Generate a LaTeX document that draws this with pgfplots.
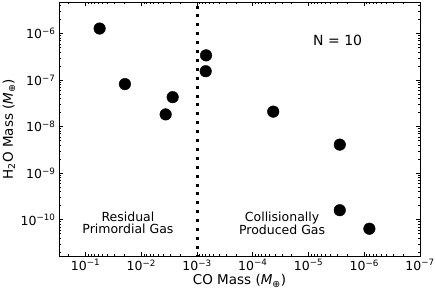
\documentclass[border=0pt]{standalone}
\usepackage{fontspec}
\setmainfont{DejaVu Sans}
\usepackage{pgfplots}
\pgfplotsset{compat=1.18}
\begin{document}
\begin{tikzpicture}
\begin{axis}[
  scale only axis,
  width=361pt, height=254pt,
  xmode=log, ymode=log,
  log basis x=10, log basis y=10,
  x dir=reverse,
  xmin=1e-7, xmax=0.30,
  ymin=1.66e-11, ymax=4.76e-6,
  xtick={1e-7,1e-6,1e-5,1e-4,1e-3,1e-2,1e-1},
  ytick={1e-10,1e-9,1e-8,1e-7,1e-6},
  minor xtick={2e-7,3e-7,4e-7,5e-7,6e-7,7e-7,8e-7,9e-7,
    2e-6,3e-6,4e-6,5e-6,6e-6,7e-6,8e-6,9e-6,
    2e-5,3e-5,4e-5,5e-5,6e-5,7e-5,8e-5,9e-5,
    2e-4,3e-4,4e-4,5e-4,6e-4,7e-4,8e-4,9e-4,
    2e-3,3e-3,4e-3,5e-3,6e-3,7e-3,8e-3,9e-3,
    2e-2,3e-2,4e-2,5e-2,6e-2,7e-2,8e-2,9e-2,
    2e-1,3e-1},
  minor ytick={2e-11,3e-11,4e-11,5e-11,6e-11,7e-11,8e-11,9e-11,
    2e-10,3e-10,4e-10,5e-10,6e-10,7e-10,8e-10,9e-10,
    2e-9,3e-9,4e-9,5e-9,6e-9,7e-9,8e-9,9e-9,
    2e-8,3e-8,4e-8,5e-8,6e-8,7e-8,8e-8,9e-8,
    2e-7,3e-7,4e-7,5e-7,6e-7,7e-7,8e-7,9e-7,
    2e-6,3e-6,4e-6},
  xticklabel={\pgfmathtruncatemacro\e{-round(\tick)}10\textsuperscript{−\e}},
  yticklabel={\pgfmathtruncatemacro\e{-round(\tick)}10\textsuperscript{−\e}},
  ticklabel style={font=\fontsize{12.5}{14}\selectfont},
  tick align=inside,
  major tick length=4pt, minor tick length=2pt,
  every tick/.style={black, line width=0.7pt},
  axis line style={line width=0.9pt},
  xlabel={CO Mass (\textit{M}\textsubscript{⊕})},
  ylabel={H\textsubscript{2}O Mass (\textit{M}\textsubscript{⊕})},
  label style={font=\fontsize{13.5}{15}\selectfont},
  xlabel style={at={(rel axis cs:0.5,-0.0983)}, anchor=center},
  ylabel style={at={(rel axis cs:-0.1385,0.5)}, anchor=center},
  clip=false,
]
\addplot[only marks, mark=*, mark size=5.8pt, black] coordinates {
  (5.6e-2, 1.28e-6)
  (1.97e-2, 8.2e-8)
  (3.66e-3, 1.83e-8)
  (2.74e-3, 4.3e-8)
  (6.9e-4, 3.4e-7)
  (7.0e-4, 1.55e-7)
  (4.3e-5, 2.1e-8)
  (2.75e-6, 4.1e-9)
  (2.75e-6, 1.6e-10)
  (8.1e-7, 6.4e-11)
};
\addplot[black, line width=3pt, dash pattern=on 3pt off 5.9pt, dash phase=-3.5pt] coordinates {(1e-3,4.76e-6) (1e-3,1.66e-11)};
\node[font=\fontsize{14}{16}\selectfont] at (rel axis cs:0.772,0.847) {N = 10};
\node[font=\fontsize{12.5}{12}\selectfont, align=center] at (rel axis cs:0.191,0.13) {Residual\\Primordial Gas};
\node[font=\fontsize{12.5}{12}\selectfont, align=center] at (rel axis cs:0.618,0.13) {Collisionally\\Produced Gas};
\coordinate (ll) at (rel axis cs:0,0);
\coordinate (ur) at (rel axis cs:1,1);
\end{axis}
\pgfresetboundingbox
\path[use as bounding box] ([shift={(-59pt,-35pt)}]ll) rectangle ([shift={(16pt,2pt)}]ur);
\end{tikzpicture}
\end{document}
